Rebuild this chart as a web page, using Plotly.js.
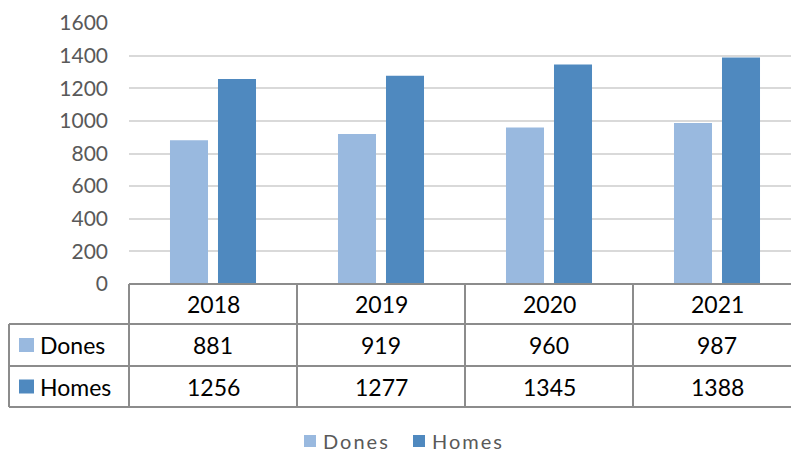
<!DOCTYPE html>
<html>
<head>
<meta charset="utf-8">
<script src="https://cdn.plot.ly/plotly-3.0.1.min.js"></script>
<style>
html,body{margin:0;padding:0;background:#fff;}
.legendtext{letter-spacing:2px; transform: translateX(-7px);}
</style>
</head>
<body>
<div id="chart" style="width:791px;height:452px;"></div>
<script>
const categories = ["2018", "2019", "2020", "2021"];
const seriesNames = ["Dones", "Homes"];
const dones = [881, 919, 960, 987];
const homes = [1256, 1277, 1345, 1388];
const yTicks = [0, 200, 400, 600, 800, 1000, 1200, 1400, 1600];

const colors = ["#99b9df", "#4f89bf"];
const lineColor = "#8c8c8c";
const W = 791, H = 452;
const mL = 129, mR = 0, mT = 23, mB = 168;
const plotW = W - mL - mR, plotH = H - mT - mB;
const xRange = [-0.5, -0.5 + plotW / 168];

function pxX(p) { return (p - mL) / plotW; }
function pxY(p) { return (H - mB - p) / plotH; }
function dataToPaperX(v) { return (v - xRange[0]) / (xRange[1] - xRange[0]); }

const font = "Lato, 'Open Sans', sans-serif";

const traces = [
  {type: "bar", name: seriesNames[0], x: categories, y: dones, marker: {color: colors[0]}, hoverinfo: "none"},
  {type: "bar", name: seriesNames[1], x: categories, y: homes, marker: {color: colors[1]}, hoverinfo: "none"}
];

const shapes = [];
const annotations = [];
function hline(y, x0, x1) {
  shapes.push({type: "line", xref: "paper", yref: "paper", x0: x0, x1: x1, y0: pxY(y), y1: pxY(y),
    line: {color: lineColor, width: 2}});
}
function vline(x, y0, y1) {
  shapes.push({type: "line", xref: "paper", yref: "paper", x0: x, x1: x, y0: pxY(y0), y1: pxY(y1),
    line: {color: lineColor, width: 2}});
}
const rowTop = 284, row1 = 324, row2 = 366, row3 = 407, leftEdge = 9;
hline(rowTop, pxX(mL), 1.05);
hline(row1, pxX(leftEdge), 1.05);
hline(row2, pxX(leftEdge), 1.05);
hline(row3, pxX(leftEdge), 1.05);
vline(pxX(leftEdge), row1, row3);
for (let i = 0; i <= categories.length; i++) {
  vline(dataToPaperX(i - 0.5), rowTop, row3);
}

const tFont = {family: font, size: 23, color: "#000000"};
categories.forEach((c, i) => {
  const xp = dataToPaperX(i);
  annotations.push({xref: "paper", yref: "paper", x: xp, y: pxY((rowTop + row1) / 2), text: c,
    showarrow: false, xanchor: "center", yanchor: "middle", font: tFont});
  annotations.push({xref: "paper", yref: "paper", x: xp, y: pxY((row1 + row2) / 2), text: String(dones[i]),
    showarrow: false, xanchor: "center", yanchor: "middle", font: tFont});
  annotations.push({xref: "paper", yref: "paper", x: xp, y: pxY((row2 + row3) / 2), text: String(homes[i]),
    showarrow: false, xanchor: "center", yanchor: "middle", font: tFont});
});
const rowMids = [(row1 + row2) / 2, (row2 + row3) / 2];
seriesNames.forEach((n, k) => {
  const m = rowMids[k];
  shapes.push({type: "rect", xref: "paper", yref: "paper", x0: pxX(19), x1: pxX(34),
    y0: pxY(m - 7), y1: pxY(m + 7), fillcolor: colors[k], line: {width: 0}});
  annotations.push({xref: "paper", yref: "paper", x: pxX(38), y: pxY(m), text: n,
    showarrow: false, xanchor: "left", yanchor: "middle", font: tFont});
});

const layout = {
  width: W, height: H,
  margin: {l: mL, r: mR, t: mT, b: mB, pad: 0, autoexpand: false},
  paper_bgcolor: "#ffffff", plot_bgcolor: "#ffffff",
  barmode: "group", bargap: 0.4286, bargroupgap: 0.208,
  xaxis: {type: "category", range: xRange, showticklabels: false, ticks: "", showgrid: false,
    zeroline: false, showline: false, fixedrange: true},
  yaxis: {range: [0, 1600], tickvals: yTicks, ticktext: yTicks.map(String), showgrid: true,
    gridcolor: "#d9d9d9", gridwidth: 2, zeroline: false, showline: false, ticks: "",
    ticklabelstandoff: 20, tickfont: {family: font, size: 21, color: "#595959"}, fixedrange: true},
  showlegend: true,
  legend: {orientation: "h", x: pxX(399), xanchor: "center", y: pxY(441), yanchor: "middle",
    font: {family: font, size: 20, color: "#595959"}, itemgap: 0, entrywidth: 64, entrywidthmode: "pixels",
    bgcolor: "rgba(0,0,0,0)"},
  shapes: shapes,
  annotations: annotations
};

Plotly.newPlot("chart", traces, layout, {displayModeBar: false, staticPlot: true});
</script>
</body>
</html>
